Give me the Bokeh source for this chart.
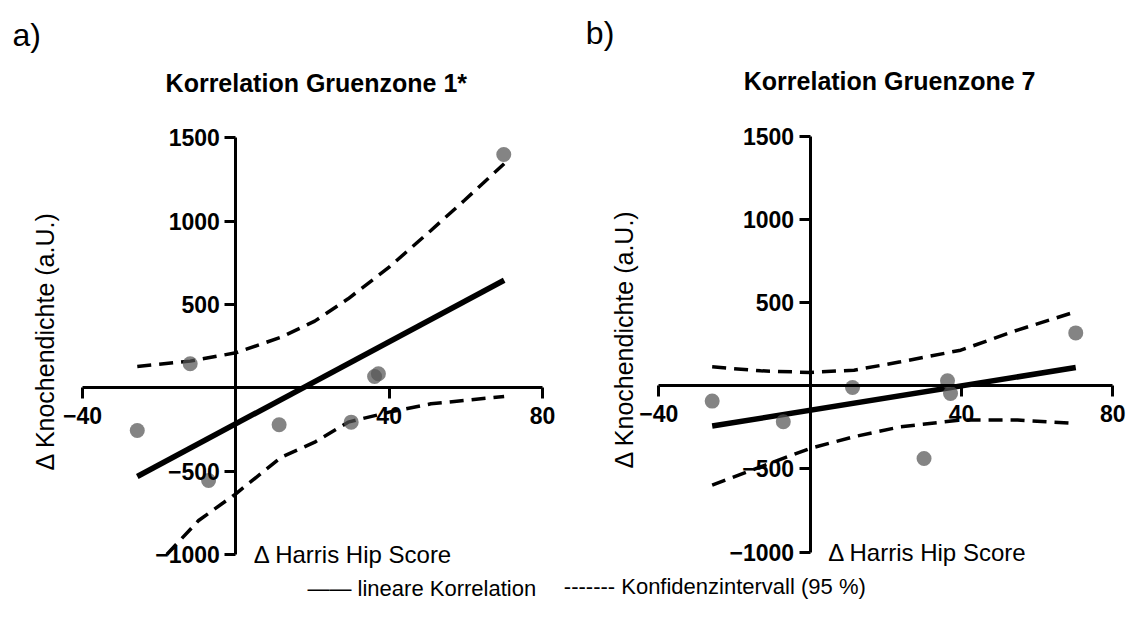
from math import pi
from bokeh.plotting import figure
from bokeh.models import LinearAxis, FixedTicker, Label, Range1d
from bokeh.layouts import row
from bokeh.embed import file_html
from bokeh.resources import INLINE

# ---------------- data ----------------
x_ticks = [-40, 0, 40, 80]
y_ticks = [-1000, -500, 0, 500, 1000, 1500]

# panel a) Gruenzone 1*
a_hhs = [69.9, -11.9, -25.7, -7.1, 11.3, 30.1, 36.2, 37.2]
a_kd = [1400, 144, -256, -556, -222, -206, 68, 84]
a_fit_x = [-25.7, 70.0]
a_fit_y = [-532, 645]
a_up_x = [-25.7, -11.9, 0, 11.9, 20.6, 29.3, 40, 50.9, 59.6, 70]
a_up_y = [128, 160, 210, 304, 400, 534, 724, 944, 1124, 1344]
a_lo_x = [-18, -9.7, 0, 11.9, 20.6, 29.3, 40, 50.9, 59.6, 70]
a_lo_y = [-1000, -796, -636, -416, -326, -206, -146, -96, -76, -52]

# panel b) Gruenzone 7
b_hhs = [70.2, -25.9, -7.1, 11.2, 30.1, 36.3, 37.1]
b_kd = [318, -92, -216, -10, -437, 30, -46]
b_fit_x = [-25.9, 70.2]
b_fit_y = [-242, 110]
b_ci_x = [-25.9, -13.1, 0, 11.6, 23.9, 39.8, 54.8, 70.2]
b_up_y = [114, 90, 80, 94, 144, 214, 335, 445]
b_lo_y = [-597, -487, -376, -306, -246, -206, -206, -226]

FONT = "Liberation Sans"


def panel(width, xr, yr, title, letter, letter_dx, ylab_dx, hhs, kd, fx, fy, ux, uy, lx, ly):
    p = figure(width=width, height=610, x_range=Range1d(*xr), y_range=Range1d(*yr),
               output_backend="svg", toolbar_location=None,
               x_axis_location=None, y_axis_location=None,
               min_border=0, min_border_left=0, min_border_right=0,
               min_border_top=0, min_border_bottom=0)
    p.outline_line_color = None
    p.background_fill_color = "white"
    p.border_fill_color = "white"
    p.xgrid.grid_line_color = None
    p.ygrid.grid_line_color = None

    xa = LinearAxis(fixed_location=0, ticker=FixedTicker(ticks=x_ticks),
                    major_label_overrides={0: ""}, bounds=(-40, 80))
    ya = LinearAxis(fixed_location=0, ticker=FixedTicker(ticks=y_ticks),
                    major_label_overrides={0: ""}, bounds=(-1000, 1500))
    for ax in (xa, ya):
        ax.axis_line_width = 3
        ax.axis_line_color = "black"
        ax.major_tick_line_width = 3
        ax.major_tick_line_color = "black"
        ax.major_tick_in = 0
        ax.major_tick_out = 11
        ax.minor_tick_line_color = None
        ax.major_label_text_font = FONT
        ax.major_label_text_font_style = "bold"
        ax.major_label_text_font_size = "23px"
        ax.major_label_text_color = "black"
    xa.major_label_standoff = 8
    ya.major_label_standoff = 5
    p.add_layout(xa, "below")
    p.add_layout(ya, "left")

    p.line(ux, uy, line_color="black", line_width=3.5, line_dash="14 8")
    p.line(lx, ly, line_color="black", line_width=3.5, line_dash="14 8")
    p.line(fx, fy, line_color="black", line_width=5.5)
    p.scatter(hhs, kd, size=15, fill_color="#555555", fill_alpha=0.72, line_color=None)

    p.add_layout(Label(x=21, y=1500, y_offset=55, text=title, text_align="center",
                       text_baseline="middle", text_font=FONT, text_font_style="bold",
                       text_font_size="25px", text_color="black"))
    p.add_layout(Label(x=-40, y=1500, x_offset=letter_dx, y_offset=103, text=letter,
                       text_align="left", text_baseline="middle", text_font=FONT,
                       text_font_size="32px", text_color="black"))
    p.add_layout(Label(x=0, y=-1000, x_offset=18, text="\u0394 Harris Hip Score",
                       text_align="left", text_baseline="middle", text_font=FONT,
                       text_font_size="24px", text_color="black"))
    p.add_layout(Label(x=-40, y=280, x_offset=ylab_dx, angle=pi / 2,
                       text="\u0394 Knochendichte (a.U.)", text_align="center",
                       text_baseline="middle", text_font=FONT,
                       text_font_size="25px", text_color="black"))
    return p


pa = panel(560, (-61.38, 84.70), (-1336.2, 2323.8), "Korrelation Gruenzone 1*", "a)", -70, -37,
           a_hhs, a_kd, a_fit_x, a_fit_y, a_up_x, a_up_y, a_lo_x, a_lo_y)
pb = panel(568, (-65.99, 84.14), (-1350.4, 2315.5), "Korrelation Gruenzone 7", "b)", -73, -35,
           b_hhs, b_kd, b_fit_x, b_fit_y, b_ci_x, b_up_y, b_ci_x, b_lo_y)

pa.add_layout(Label(x=-40, y=-1000, x_offset=225, y_offset=-34,
                    text="\u2014\u2014 lineare Korrelation", text_align="left",
                    text_baseline="middle", text_font=FONT, text_font_size="22px",
                    text_color="black"))
pb.add_layout(Label(x=-40, y=-1000, x_offset=-95, y_offset=-34,
                    text="------- Konfidenzintervall (95 %)", text_align="left",
                    text_baseline="middle", text_font=FONT, text_font_size="22px",
                    text_color="black"))

layout = row(pa, pb)
open("out.html", "w").write(file_html(layout, INLINE))
